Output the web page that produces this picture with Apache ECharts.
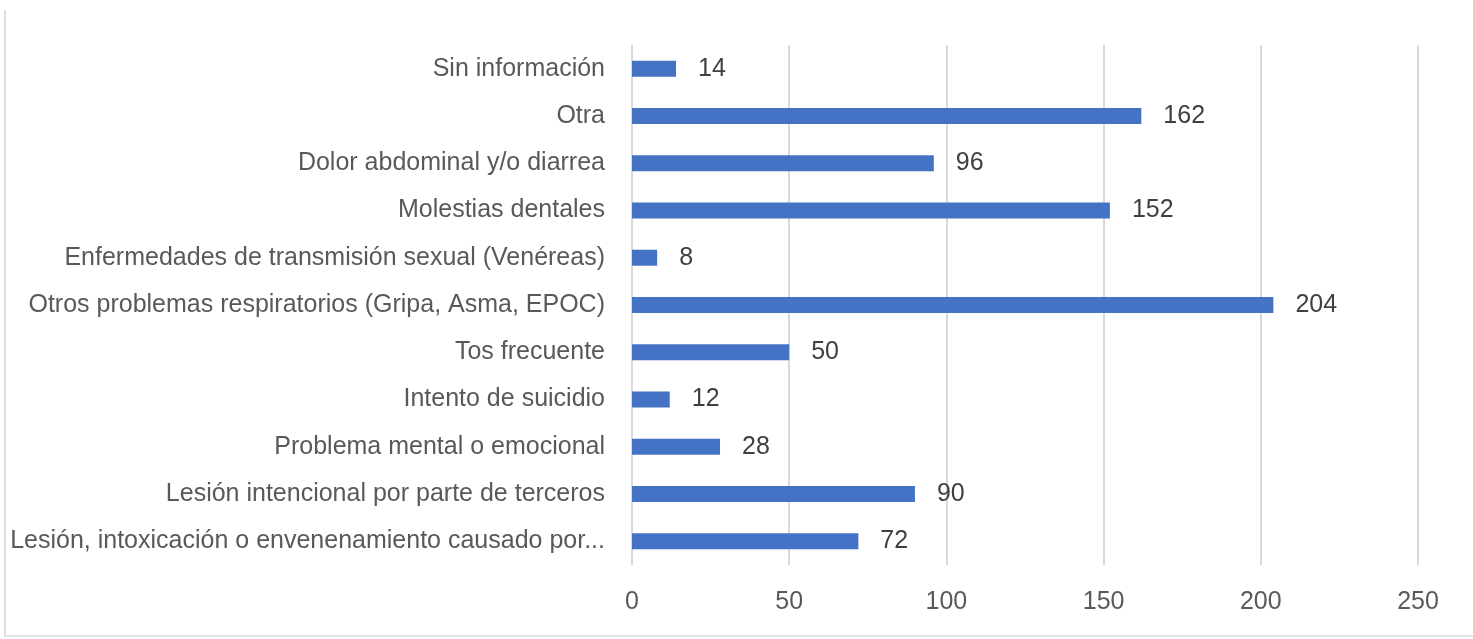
<!DOCTYPE html>
<html>
<head>
<meta charset="utf-8">
<script src="https://cdn.jsdelivr.net/npm/echarts@6/dist/echarts.min.js"></script>
<style>
  html, body { margin: 0; padding: 0; background: #ffffff; }
  #wrap { position: relative; width: 1473px; height: 639px; overflow: hidden; background: #fff; }
  #frame { position: absolute; left: 4px; top: 10px; width: 1480px; height: 625px;
           border-left: 2px solid #dedede; border-bottom: 2px solid #e6e6e6; pointer-events: none; }
  #chart { position: absolute; left: 0; top: 0; width: 1473px; height: 639px; }
</style>
</head>
<body>
<div id="wrap">
  <div id="chart"></div>
  <div id="frame"></div>
</div>
<script>
const categories = [
  "Sin información",
  "Otra",
  "Dolor abdominal y/o diarrea",
  "Molestias dentales",
  "Enfermedades de transmisión sexual (Venéreas)",
  "Otros problemas respiratorios (Gripa, Asma, EPOC)",
  "Tos frecuente",
  "Intento de suicidio",
  "Problema mental o emocional",
  "Lesión intencional por parte de terceros",
  "Lesión, intoxicación o envenenamiento causado por..."
];
const values = [14, 162, 96, 152, 8, 204, 50, 12, 28, 90, 72];
const xTicks = [0, 50, 100, 150, 200, 250];

const FONT = "'Liberation Sans', Arial, sans-serif";
const chart = echarts.init(document.getElementById('chart'), null, { renderer: 'canvas' });
chart.setOption({
  animation: false,
  backgroundColor: '#ffffff',
  grid: { left: 632, right: 55, top: 45, bottom: 74, containLabel: false, outerBoundsMode: 'none' },
  xAxis: {
    type: 'value',
    min: xTicks[0],
    max: xTicks[xTicks.length - 1],
    interval: 50,
    axisLine: { show: false },
    axisTick: { show: false },
    splitLine: { show: true, lineStyle: { color: '#d9d9d9', width: 2 } },
    axisLabel: { color: '#595959', fontFamily: FONT, fontSize: 25, margin: 25 }
  },
  yAxis: {
    type: 'category',
    data: categories,
    inverse: true,
    axisLine: { show: false },
    axisTick: { show: false },
    axisLabel: { color: '#595959', fontFamily: FONT, fontSize: 25, margin: 27 }
  },
  series: [{
    type: 'bar',
    data: values,
    barWidth: 16,
    itemStyle: { color: '#4472C4' },
    label: {
      show: true,
      position: 'right',
      distance: 22,
      color: '#404040',
      fontFamily: FONT,
      fontSize: 25
    }
  }]
});
</script>
</body>
</html>
